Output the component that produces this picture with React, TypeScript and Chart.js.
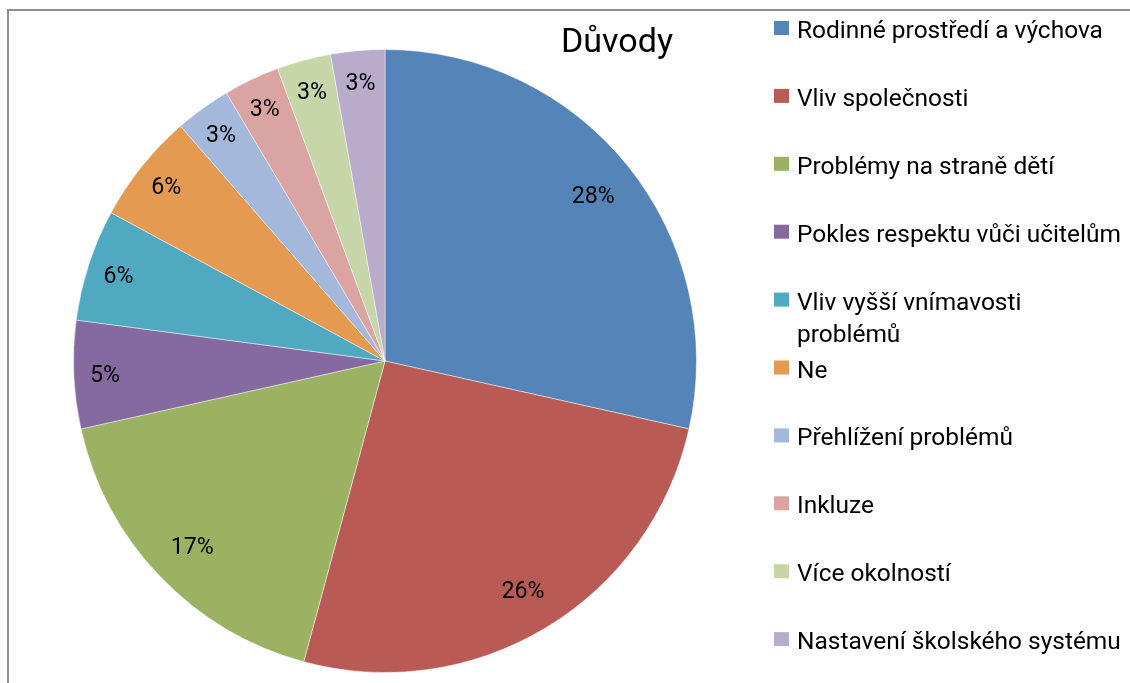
import React, { useEffect, useRef } from "react";
import { Chart, registerables } from "chart.js";

Chart.register(...registerables);

const titleText = "Důvody";
const categories = [
  "Rodinné prostředí a výchova",
  "Vliv společnosti",
  "Problémy na straně dětí",
  "Pokles respektu vůči učitelům",
  "Vliv vyšší vnímavosti problémů",
  "Ne",
  "Přehlížení problémů",
  "Inkluze",
  "Více okolností",
  "Nastavení školského systému",
];
const values = [28.5, 25.7, 17.3, 5.6, 5.8, 5.7, 2.9, 2.9, 2.8, 2.8];
const percentLabels = ["28%", "26%", "17%", "5%", "6%", "6%", "3%", "3%", "3%", "3%"];
const colors = [
  "#5585B8",
  "#B95A55",
  "#9CB263",
  "#846A9E",
  "#4FA9C0",
  "#E49A51",
  "#A3B8DA",
  "#D9A4A1",
  "#C7D6A9",
  "#B9ACCB",
];

const FONT = "Roboto, 'Open Sans', 'DejaVu Sans', sans-serif";

function fitSize(ctx: CanvasRenderingContext2D, text: string, target: number) {
  ctx.font = `100px ${FONT}`;
  const w = ctx.measureText(text).width;
  return (100 * target) / w;
}

const decorPlugin = {
  id: "decor",
  afterDraw(chart: any) {
    const ctx: CanvasRenderingContext2D = chart.ctx;
    ctx.save();

    // frame (chart area border)
    ctx.strokeStyle = "#8E8E8E";
    ctx.lineWidth = 2;
    ctx.beginPath();
    ctx.moveTo(8, 700);
    ctx.lineTo(8, 10);
    ctx.lineTo(1140, 10);
    ctx.stroke();

    // title
    const titleSize = fitSize(ctx, titleText, 112);
    ctx.font = `${titleSize}px ${FONT}`;
    ctx.fillStyle = "#000";
    ctx.textAlign = "center";
    ctx.textBaseline = "alphabetic";
    ctx.fillText(titleText, 617, 52);

    // data labels
    const labelSize = fitSize(ctx, "28%", 43);
    ctx.font = `${labelSize}px ${FONT}`;
    const meta = chart.getDatasetMeta(0);
    meta.data.forEach((arc: any, i: number) => {
      const p = arc.getProps(["x", "y", "startAngle", "endAngle", "outerRadius"], true);
      const mid = (p.startAngle + p.endAngle) / 2;
      const span = p.endAngle - p.startAngle;
      const k = span < 0.5 ? 0.9 : 0.857;
      const px = p.x + Math.cos(mid) * p.outerRadius * k;
      const py = p.y + Math.sin(mid) * p.outerRadius * k;
      const m = ctx.measureText(percentLabels[i]);
      const asc = m.actualBoundingBoxAscent;
      ctx.textAlign = "center";
      ctx.fillText(percentLabels[i], px, py + asc / 2);
    });

    // legend
    const legSize = fitSize(ctx, categories[0], 306);
    ctx.font = `${legSize}px ${FONT}`;
    ctx.textAlign = "left";
    const maxW = 325;
    categories.forEach((cat, i) => {
      const base = 38 + i * 67.9;
      ctx.fillStyle = colors[i];
      ctx.fillRect(774, base - 17, 15, 14);
      ctx.fillStyle = "#000";
      const words = cat.split(" ");
      const lines: string[] = [];
      let cur = "";
      words.forEach((w) => {
        const test = cur ? cur + " " + w : w;
        if (ctx.measureText(test).width > maxW && cur) {
          lines.push(cur);
          cur = w;
        } else {
          cur = test;
        }
      });
      if (cur) lines.push(cur);
      lines.forEach((ln, j) => {
        ctx.fillText(ln, 797, base + j * 32);
      });
    });

    ctx.restore();
  },
};

export default function App() {
  const ref = useRef<HTMLCanvasElement | null>(null);
  useEffect(() => {
    if (!ref.current) return;
    const chart = new Chart(ref.current, {
      type: "pie",
      data: {
        labels: categories,
        datasets: [
          {
            data: values,
            backgroundColor: colors,
            borderColor: "rgba(255,255,255,0.45)",
            borderWidth: 1,
          },
        ],
      },
      options: {
        responsive: false,
        animation: false,
        layout: { padding: { left: 73, top: 49, right: 433, bottom: 10 } },
        plugins: {
          legend: { display: false },
          title: { display: false },
          tooltip: { enabled: false },
        },
      },
      plugins: [decorPlugin],
    });
    return () => chart.destroy();
  }, []);
  return (
    <div style={{ position: "fixed", left: 0, top: 0, width: 1130, height: 683, background: "#fff" }}>
      <canvas ref={ref} width={1130} height={683} style={{ display: "block" }} />
    </div>
  );
}
